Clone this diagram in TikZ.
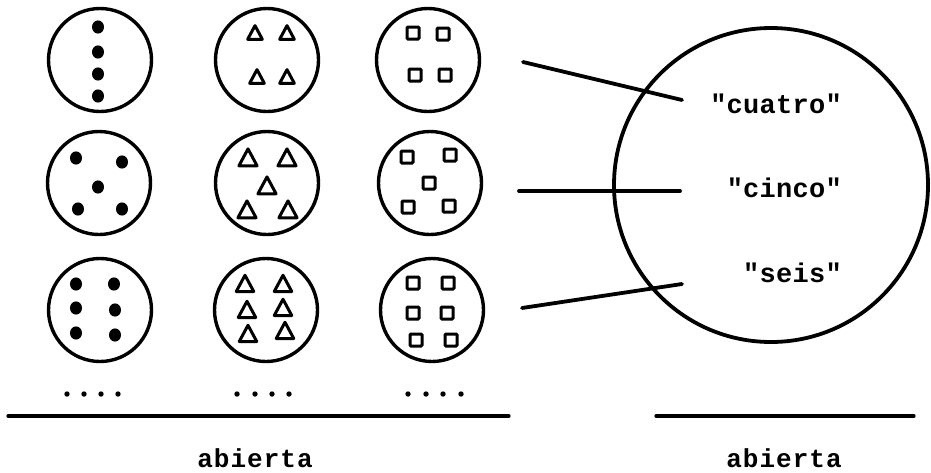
\documentclass[tikz,border=0pt]{standalone}
\usepackage{fontspec}
\newfontfamily\labfont[LetterSpace=1]{Liberation Mono}
\newfontfamily\abfont[LetterSpace=4]{Liberation Mono}
\begin{document}
\begin{tikzpicture}[x=1pt,y=-1pt,
  ring/.style={draw, circle, line width=3.4pt, minimum size=103pt, inner sep=0pt},
  bigring/.style={draw, circle, line width=3.8pt, minimum size=314pt, inner sep=0pt},
  conn/.style={line width=3.8pt, line cap=round},
  baseline rule/.style={line width=3.2pt, line cap=round},
  lab/.style={anchor=base east, inner sep=0pt, font=\labfont\bfseries\fontsize{27}{30}\selectfont},
  ab/.style={anchor=base, inner sep=0pt, font=\abfont\bfseries\fontsize{26}{30}\selectfont},
  dotmark/.pic={\fill (0,0) ellipse [x radius=6pt, y radius=6.6pt];},
  tri/.pic={\draw[line width=3pt, line join=round] (-7,6) -- (0,-7) -- (7,6) -- cycle;},
  sqr/.pic={\draw[line width=3pt, rounded corners=1pt] (-6,-6) rectangle (6,6);},
  elip/.pic={\fill (0,0) circle [radius=2.7pt];}
]
\useasboundingbox (0,0) rectangle (931,472);

% small circles
\node[ring] (c11) at (100,60) {};
\node[ring] (c12) at (267,60) {};
\node[ring] (c13) at (428,60) {};
\node[ring] (c21) at (99,183) {};
\node[ring] (c22) at (267,183) {};
\node[ring] (c23) at (430,183) {};
\node[ring] (c31) at (100,310) {};
\node[ring] (c32) at (266,310) {};
\node[ring] (c33) at (432,310) {};

% dots: four
\foreach \y in {27,52,74,96} \pic at (98,\y) {dotmark};
% dots: five
\foreach \p in {(76,158),(122,162),(98,187),(78,209),(122,209)} \pic at \p {dotmark};
% dots: six
\foreach \p in {(76,284),(114,284),(76,308),(115,310),(76,333),(115,335)} \pic at \p {dotmark};

% triangles
\foreach \p in {(255,33),(287,33),(257,77),(287,77)} \pic[scale=1.05] at \p {tri};
\foreach \p in {(248,158),(287,158),(267,186),(247,210),(288,210)} \pic[scale=1.3] at \p {tri};
\foreach \p in {(245,284),(283,284),(247,310),(283,308),(248,334),(285,331)} \pic[scale=1.25] at \p {tri};

% squares
\foreach \p in {(413,33),(443,34),(415,75),(445,75)} \pic at \p {sqr};
\foreach \p in {(407,157),(450,155),(429,183),(408,207),(449,206)} \pic at \p {sqr};
\foreach \p in {(413,283),(448,283),(413,313),(447,313),(416,340),(451,340)} \pic at \p {sqr};

% ellipses
\foreach \x in {67,84,101,118,237,255,272,289,408,426,443,461} \pic at (\x,394) {elip};

% big circle
\node[bigring] (big) at (771,185) {};

% labels
\node[lab] (cuatro) at (842,113) {"cuatro"};
\node[lab] (cinco) at (842,197) {"cinco"};
\node[lab] (seis) at (842,282) {"seis"};

% connectors
\coordinate (l1a) at (523,62);  \coordinate (l1b) at (682,100);
\coordinate (l2a) at (519,191); \coordinate (l2b) at (680,191);
\coordinate (l3a) at (522,308); \coordinate (l3b) at (682,284);
\draw[conn] (l1a) -- (l1b);
\draw[conn] (l2a) -- (l2b);
\draw[conn] (l3a) -- (l3b);

% bottom rules
\coordinate (b1a) at (8,416);   \coordinate (b1b) at (509,416);
\coordinate (b2a) at (656,416); \coordinate (b2b) at (914,416);
\draw[baseline rule] (b1a) -- (b1b);
\draw[baseline rule] (b2a) -- (b2b);

\node[ab] (ab1) at (255,467) {abierta};
\node[ab] (ab2) at (784,467) {abierta};
\end{tikzpicture}
\end{document}
